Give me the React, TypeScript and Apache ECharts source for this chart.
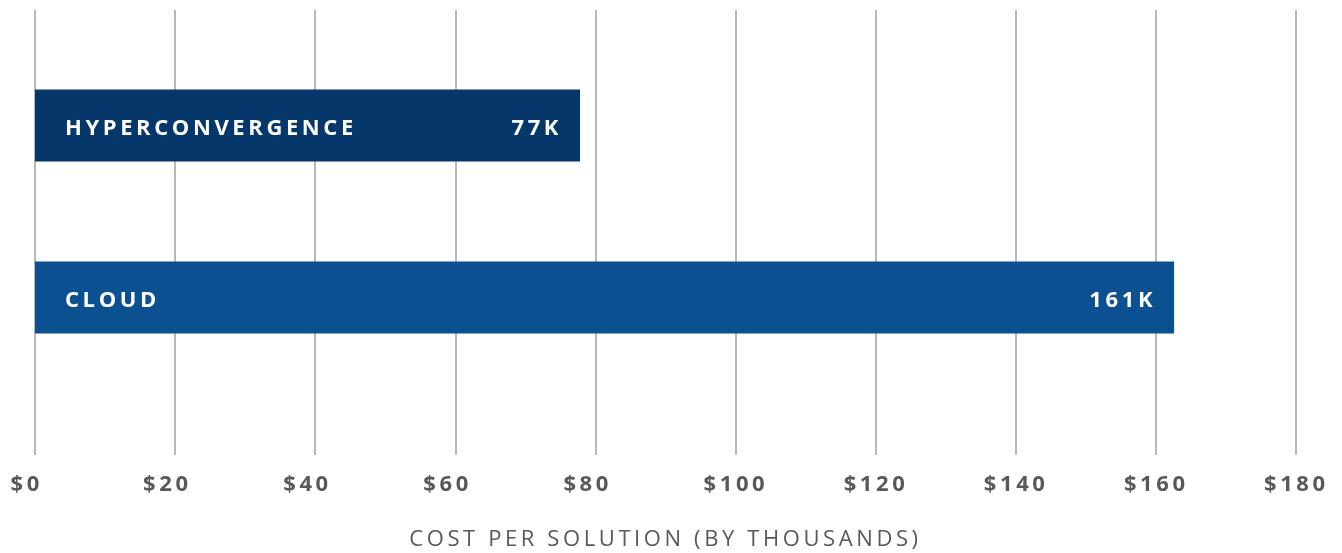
import React, { useEffect, useRef } from "react";
import * as echarts from "echarts";

const categories = ["HYPERCONVERGENCE", "CLOUD"];
const values = [77.8, 162.6];
const valueLabels = ["77K", "161K"];
const barColors = ["#06376b", "#0b5191"];
const xTicks = { min: 0, max: 180, interval: 20 };
const axisName = "COST PER SOLUTION (BY THOUSANDS)";

export default function App() {
  const ref = useRef<HTMLDivElement>(null);
  useEffect(() => {
    if (!ref.current) return;
    const chart = echarts.init(ref.current, null, { renderer: "svg" });
    const font = "'Open Sans', sans-serif";
    const tickStyle = {
      color: "#58595b",
      fontFamily: font,
      fontWeight: "bold",
      fontSize: 22,
      align: "left",
    };
    chart.setOption({
      animation: false,
      grid: [
        { left: 35, right: 46, top: 10, bottom: 98 },
        { left: 35, right: 46, top: 39.5, height: 344 },
      ],
      xAxis: [
        {
          gridIndex: 0,
          type: "value",
          min: xTicks.min,
          max: xTicks.max,
          interval: xTicks.interval,
          axisLine: { show: false },
          axisTick: { show: false },
          splitLine: { show: true, lineStyle: { color: "#b8b8b8", width: 2 } },
          axisLabel: {
            formatter: (v: number) => (v === 0 ? `{z|$${v}}` : `{a|$${v}}`),
            color: "#58595b",
            fontFamily: font,
            fontWeight: "bold",
            fontSize: 22,
            margin: 16,
            align: "center",
            rich: {
              a: { ...tickStyle, width: 64 },
              z: { ...tickStyle, width: 49 },
            },
          },
          name: axisName,
          nameLocation: "middle",
          nameGap: 71,
          nameTextStyle: {
            color: "#58595b",
            fontFamily: font,
            fontSize: 22,
          },
        },
        {
          gridIndex: 1,
          type: "value",
          min: xTicks.min,
          max: xTicks.max,
          interval: xTicks.interval,
          show: false,
        },
      ],
      yAxis: [
        { gridIndex: 0, type: "category", data: [""], show: false },
        {
          gridIndex: 1,
          type: "category",
          inverse: true,
          data: categories,
          axisLine: { show: false },
          axisTick: { show: false },
          splitLine: { show: false },
          z: 10,
          axisLabel: {
            inside: true,
            margin: 30,
            color: "#ffffff",
            fontFamily: font,
            fontWeight: "bold",
            fontSize: 22,
          },
        },
      ],
      series: [
        {
          type: "bar",
          xAxisIndex: 1,
          yAxisIndex: 1,
          barWidth: 72,
          data: values.map((v, i) => ({ value: v, itemStyle: { color: barColors[i] } })),
          label: {
            show: true,
            position: "insideRight",
            distance: 18,
            formatter: (p: any) => valueLabels[p.dataIndex],
            color: "#ffffff",
            fontFamily: font,
            fontWeight: "bold",
            fontSize: 22,
          },
        },
      ],
    });
    return () => chart.dispose();
  }, []);
  return (
    <>
      <style>{`.chartbox svg text { letter-spacing: 3.6px; }`}</style>
      <div
        ref={ref}
        className="chartbox"
        style={{ position: "fixed", left: 0, top: 0, width: 1342, height: 553 }}
      />
    </>
  );
}
